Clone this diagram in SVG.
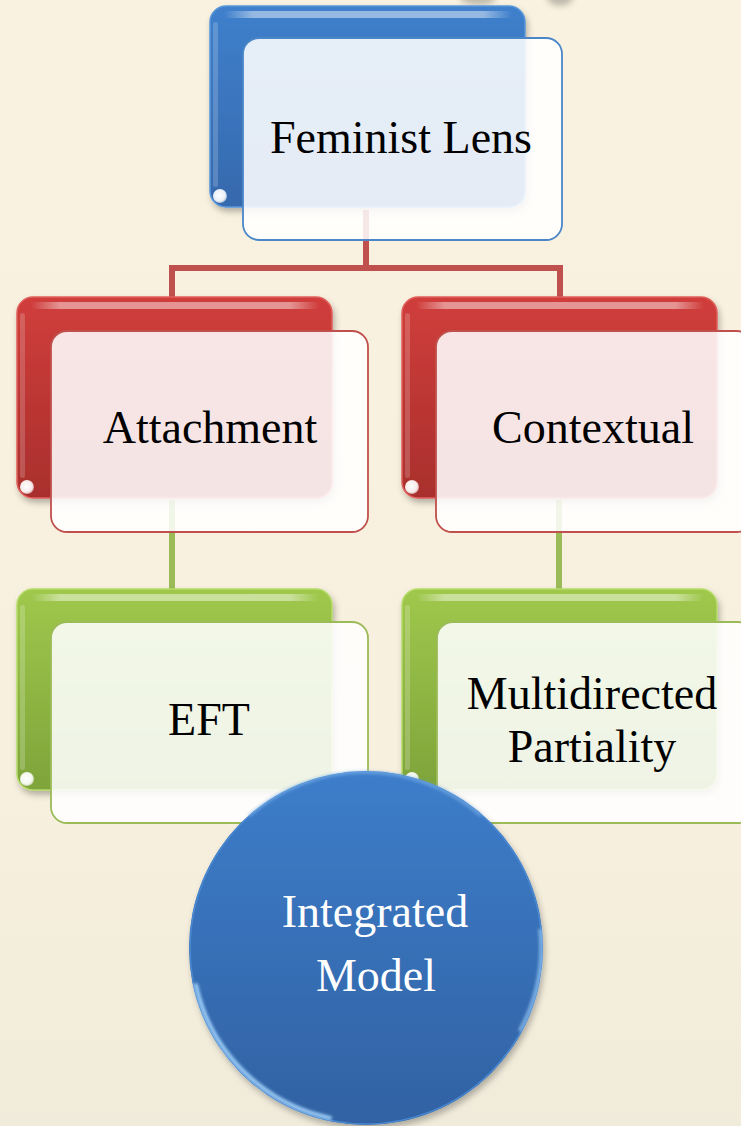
<svg xmlns="http://www.w3.org/2000/svg" width="741" height="1126" viewBox="0 0 741 1126">
  <defs>
    <linearGradient id="bg" x1="0" y1="0" x2="0" y2="1">
      <stop offset="0" stop-color="#faf2e0"/>
      <stop offset="0.7" stop-color="#f8f0de"/>
      <stop offset="1" stop-color="#f0ebda"/>
    </linearGradient>
    <linearGradient id="gBlue" x1="0" y1="0" x2="0" y2="1">
      <stop offset="0" stop-color="#3f80cc"/>
      <stop offset="1" stop-color="#3669ad"/>
    </linearGradient>
    <linearGradient id="gRed" x1="0" y1="0" x2="0" y2="1">
      <stop offset="0" stop-color="#d03e3b"/>
      <stop offset="1" stop-color="#a92f2d"/>
    </linearGradient>
    <linearGradient id="gGreen" x1="0" y1="0" x2="0" y2="1">
      <stop offset="0" stop-color="#9fc84c"/>
      <stop offset="1" stop-color="#7ea43a"/>
    </linearGradient>
    <linearGradient id="gDisc" x1="0" y1="0" x2="0" y2="1">
      <stop offset="0" stop-color="#3d7dca"/>
      <stop offset="1" stop-color="#3162a3"/>
    </linearGradient>
    <linearGradient id="gShine" x1="0" y1="0" x2="1" y2="0">
      <stop offset="0" stop-color="#fff" stop-opacity="0"/>
      <stop offset="0.1" stop-color="#fff" stop-opacity="0.45"/>
      <stop offset="0.9" stop-color="#fff" stop-opacity="0.45"/>
      <stop offset="1" stop-color="#fff" stop-opacity="0"/>
    </linearGradient>
    <radialGradient id="gDot" cx="0.45" cy="0.45" r="0.6">
      <stop offset="0" stop-color="#fff"/>
      <stop offset="0.7" stop-color="#fff" stop-opacity="0.9"/>
      <stop offset="1" stop-color="#fff" stop-opacity="0.4"/>
    </radialGradient>
    <filter id="shadow" x="-10%" y="-10%" width="125%" height="125%">
      <feDropShadow dx="2" dy="4" stdDeviation="3" flood-color="#000" flood-opacity="0.28"/>
    </filter>
    <filter id="soft" x="-50%" y="-50%" width="200%" height="200%">
      <feGaussianBlur stdDeviation="3"/>
    </filter>
    <filter id="rimBlur" x="-10%" y="-10%" width="120%" height="120%">
      <feGaussianBlur stdDeviation="1.5"/>
    </filter>
    <style>
      .label { font-family: "Liberation Serif", "DejaVu Serif", serif; font-size: 46px; fill: #000; text-anchor: middle; }
      .label-light { fill: #fff; }
      .link-red { stroke: #c0504d; stroke-width: 6; fill: none; }
      .link-green { stroke: #9bbb59; stroke-width: 6; fill: none; }
      .back { filter: url(#shadow); }
      .shine { fill: url(#gShine); }
      .dot { fill: url(#gDot); }
      .front { fill: #ffffff; fill-opacity: 0.87; stroke-width: 1.8; }
    </style>
  </defs>

  <!-- backdrop -->
  <rect x="0" y="0" width="741" height="1126" fill="url(#bg)"/>
  <g opacity="0.55" filter="url(#soft)">
    <ellipse cx="478" cy="-3" rx="18" ry="8" fill="#8c8a80"/>
    <ellipse cx="560" cy="-3" rx="13" ry="9" fill="#8c8a80"/>
  </g>

  <!-- connectors -->
  <g id="connectors">
    <path class="link-red" d="M366 210 V268 M172 268 H560 M172 265 V300 M560 265 V300"/>
    <path class="link-green" d="M172 500 V592"/>
    <path class="link-green" d="M559 500 V592"/>
  </g>

  <!-- top: Feminist Lens -->
  <g id="node-feminist-lens">
    <rect class="back" x="210" y="6" width="315" height="201" rx="16" fill="url(#gBlue)" stroke="#5a97da" stroke-width="1.5"/>
    <rect class="shine" x="224" y="11" width="288" height="7" rx="3.5"/>
    <rect x="213" y="22" width="5" height="165" rx="2.5" fill="#fff" opacity="0.18"/>
    <circle class="dot" cx="220" cy="196" r="7"/>
    <rect class="front" x="243" y="38" width="319" height="202" rx="16" stroke="#4a86c8"/>
    <text class="label" x="401" y="153">Feminist Lens</text>
  </g>

  <!-- second row -->
  <g id="node-attachment">
    <rect class="back" x="17" y="297" width="315" height="201" rx="16" fill="url(#gRed)" stroke="#e0605c" stroke-width="1.5"/>
    <rect class="shine" x="31" y="302" width="288" height="7" rx="3.5"/>
    <rect x="20" y="313" width="5" height="165" rx="2.5" fill="#fff" opacity="0.18"/>
    <circle class="dot" cx="27" cy="487" r="7"/>
    <rect class="front" x="51" y="331" width="317" height="201" rx="16" stroke="#c0504d"/>
    <text class="label" x="210" y="443">Attachment</text>
  </g>

  <g id="node-contextual">
    <rect class="back" x="402" y="297" width="315" height="201" rx="16" fill="url(#gRed)" stroke="#e0605c" stroke-width="1.5"/>
    <rect class="shine" x="416" y="302" width="288" height="7" rx="3.5"/>
    <rect x="405" y="313" width="5" height="165" rx="2.5" fill="#fff" opacity="0.18"/>
    <circle class="dot" cx="412" cy="487" r="7"/>
    <rect class="front" x="436" y="331" width="317" height="201" rx="16" stroke="#c0504d"/>
    <text class="label" x="593" y="443">Contextual</text>
  </g>

  <!-- third row -->
  <g id="node-eft">
    <rect class="back" x="17" y="589" width="315" height="201" rx="16" fill="url(#gGreen)" stroke="#b5dc6a" stroke-width="1.5"/>
    <rect class="shine" x="31" y="594" width="288" height="7" rx="3.5"/>
    <rect x="20" y="605" width="5" height="165" rx="2.5" fill="#fff" opacity="0.2"/>
    <circle class="dot" cx="27" cy="779" r="7"/>
    <rect class="front" x="51" y="622" width="317" height="201" rx="16" stroke="#9bbb59"/>
    <text class="label" x="209" y="735">EFT</text>
  </g>

  <g id="node-multidirected-partiality">
    <rect class="back" x="402" y="589" width="315" height="201" rx="16" fill="url(#gGreen)" stroke="#b5dc6a" stroke-width="1.5"/>
    <rect class="shine" x="416" y="594" width="288" height="7" rx="3.5"/>
    <rect x="405" y="605" width="5" height="165" rx="2.5" fill="#fff" opacity="0.2"/>
    <circle class="dot" cx="412" cy="779" r="7"/>
    <rect class="front" x="437" y="622" width="317" height="201" rx="16" stroke="#9bbb59"/>
    <text class="label" x="592" y="709">Multidirected</text>
    <text class="label" x="592" y="762">Partiality</text>
  </g>

  <!-- bottom: Integrated Model disc -->
  <g id="node-integrated-model">
    <circle cx="366" cy="948" r="177" fill="url(#gDisc)" filter="url(#shadow)"/>
    <circle cx="366" cy="948" r="176" fill="none" stroke="#4a88d0" stroke-width="1.5"/>
    <path d="M196 985 A174 174 0 0 0 330 1118" fill="none" stroke="#a8d8ff" stroke-width="4" stroke-linecap="round" filter="url(#rimBlur)" opacity="0.9"/>
    <path d="M540 930 A174 174 0 0 1 520 1030" fill="none" stroke="#a8d8ff" stroke-width="3" stroke-linecap="round" filter="url(#rimBlur)" opacity="0.7"/>
    <path d="M250 815 A176 176 0 0 1 480 815" fill="none" stroke="#7fb5ec" stroke-width="3" stroke-linecap="round" filter="url(#rimBlur)" opacity="0.6"/>
    <text class="label label-light" x="375" y="927">Integrated</text>
    <text class="label label-light" x="376" y="991">Model</text>
  </g>
</svg>
